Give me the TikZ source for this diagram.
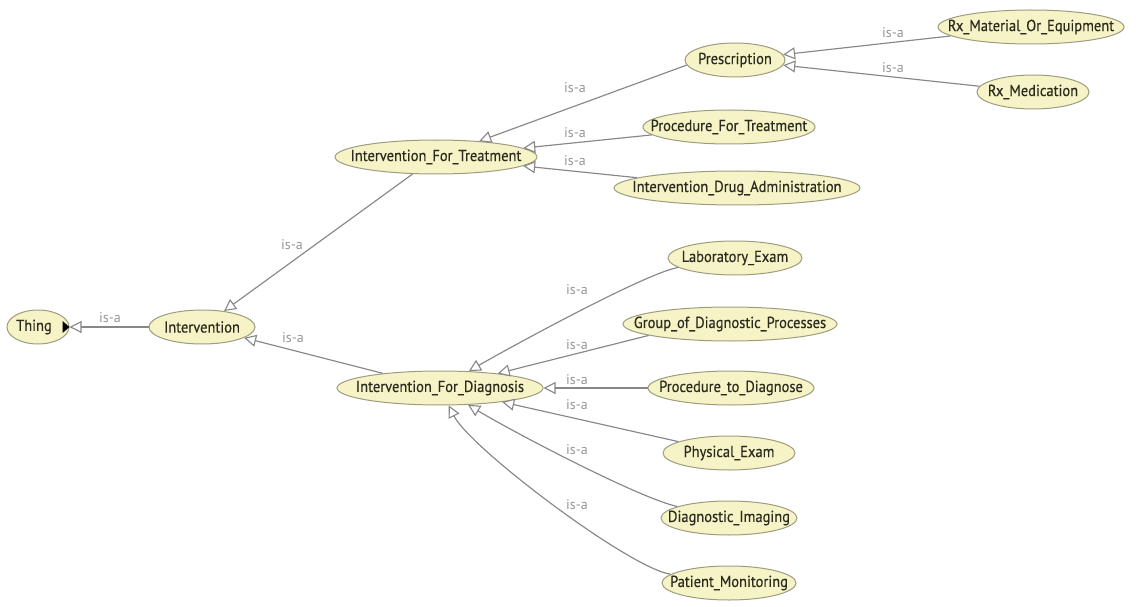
\documentclass[tikz,border=0pt]{standalone}
\usepackage{fontspec}
\setmainfont{PT Sans}
\newfontfamily\clsfont[FakeBold=0.35]{PT Sans}
\usetikzlibrary{shapes.geometric,arrows.meta}
\definecolor{clsfill}{HTML}{F6F3C6}
\definecolor{clsline}{HTML}{9E9C7E}
\definecolor{edgegray}{HTML}{878787}
\definecolor{lblgray}{HTML}{969696}
\definecolor{clstext}{HTML}{2A2A1E}
% class label whose width does not enlarge the ellipse
\newcommand{\clsname}[1]{\makebox[0pt]{\scalebox{1}[1.1]{#1}}}
\tikzset{
  cls/.style={ellipse, draw=clsline, fill=clsfill, line width=1pt,
    minimum height=34pt, inner sep=0pt, text=clstext,
    font=\clsfont\fontsize{14.5}{16}\selectfont},
  isa/.style={draw=edgegray, line width=1.15pt,
    -{Triangle[length=12pt,width=12pt,fill=white,line width=1.1pt]}},
  isalbl/.style={text=lblgray, font=\fontsize{14}{15}\selectfont, inner sep=0pt}
}
\begin{document}
\begin{tikzpicture}[x=1pt,y=-1pt]
\useasboundingbox[fill=white] (0,0) rectangle (1136,607);

% classes
\node[cls, minimum width=62pt]  (thing) at (38,327)  {\clsname{Thing\hspace{8pt}}};
\node[cls, minimum width=106pt] (intv)  at (202,327) {\clsname{Intervention}};
\node[cls, minimum width=202pt] (trt)   at (436,157) {\clsname{Intervention\_For\_Treatment}};
\node[cls, minimum width=206pt] (dgn)   at (440,388) {\clsname{Intervention\_For\_Diagnosis}};
\node[cls, minimum width=100pt] (presc) at (735,60)  {\clsname{Prescription}};
\node[cls, minimum width=186pt] (rxmat) at (1031,27) {\clsname{Rx\_Material\_Or\_Equipment}};
\node[cls, minimum width=112pt] (rxmed) at (1033,92) {\clsname{Rx\_Medication}};
\node[cls, minimum width=172pt] (proct) at (729,127) {\clsname{Procedure\_For\_Treatment}};
\node[cls, minimum width=246pt] (drug)  at (737,188) {\clsname{Intervention\_Drug\_Administration}};
\node[cls, minimum width=134pt] (lab)   at (735,258) {\clsname{Laboratory\_Exam}};
\node[cls, minimum width=214pt] (grp)   at (730,324) {\clsname{Group\_of\_Diagnostic\_Processes}};
\node[cls, minimum width=166pt] (procd) at (731,388) {\clsname{Procedure\_to\_Diagnose}};
\node[cls, minimum width=132pt] (phys)  at (729,453) {\clsname{Physical\_Exam}};
\node[cls, minimum width=136pt] (img)   at (729,518) {\clsname{Diagnostic\_Imaging}};
\node[cls, minimum width=134pt] (pat)   at (729,583) {\clsname{Patient\_Monitoring}};

% expand marker on Thing
\fill[black] ([xshift=-7pt,yshift=-6pt]thing.east) -- ([xshift=0pt]thing.east)
  -- ([xshift=-7pt,yshift=6pt]thing.east) -- cycle;

% subclass links
\draw[isa] (intv) -- (thing);
\draw[isa] (trt) -- (intv);
\draw[isa] (dgn) -- (intv);
\draw[isa] (presc.186) -- (trt);
\draw[isa] (proct) -- (trt);
\draw[isa] (drug) -- (trt);
\draw[isa] (rxmat) -- (presc);
\draw[isa] (rxmed) -- (presc);
\draw[isa] (lab) .. controls +(-90,15) and +(60,-35) .. (dgn);
\draw[isa] (grp.188) -- (dgn);
\draw[isa] (procd) -- (dgn);
\draw[isa] (phys) -- (dgn);
\draw[isa] (img) .. controls +(-90,-20) and +(75,45) .. (dgn);
\draw[isa] (pat) .. controls +(-100,-15) and +(30,60) .. (dgn);

% link labels
\node[isalbl] (l1)  at (110,318) {is-a};
\node[isalbl] (l2)  at (292,245) {is-a};
\node[isalbl] (l3)  at (293,338) {is-a};
\node[isalbl] (l4)  at (575,88)  {is-a};
\node[isalbl] (l5)  at (575,133) {is-a};
\node[isalbl] (l6)  at (575,161) {is-a};
\node[isalbl] (l7)  at (893,33)  {is-a};
\node[isalbl] (l8)  at (893,68)  {is-a};
\node[isalbl] (l9)  at (577,290) {is-a};
\node[isalbl] (l10) at (577,345) {is-a};
\node[isalbl] (l11) at (577,380) {is-a};
\node[isalbl] (l12) at (577,405) {is-a};
\node[isalbl] (l13) at (577,450) {is-a};
\node[isalbl] (l14) at (577,505) {is-a};
\end{tikzpicture}
\end{document}
